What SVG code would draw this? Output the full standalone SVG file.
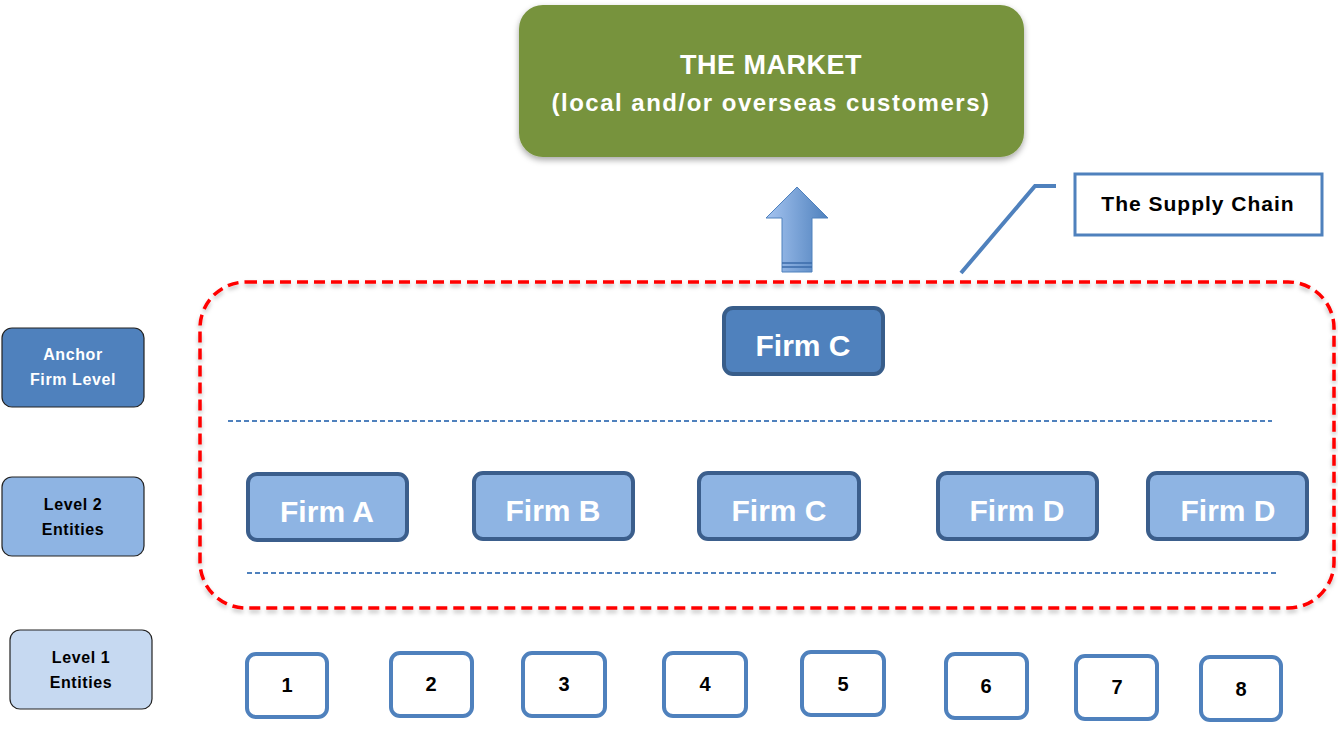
<svg xmlns="http://www.w3.org/2000/svg" width="1338" height="747" viewBox="0 0 1338 747">
<defs>
<filter id="sh" x="-10%" y="-10%" width="120%" height="130%">
<feDropShadow dx="0" dy="3" stdDeviation="3" flood-color="#000" flood-opacity="0.35"/>
</filter>
<filter id="sh2" x="-5%" y="-5%" width="110%" height="115%">
<feDropShadow dx="0" dy="3" stdDeviation="2" flood-color="#000" flood-opacity="0.25"/>
</filter>
<linearGradient id="arrowG" x1="0" y1="0" x2="1" y2="0">
<stop offset="0" stop-color="#A5C4F0"/>
<stop offset="1" stop-color="#4F81BD"/>
</linearGradient>
<linearGradient id="fadeG" x1="0" y1="0" x2="1" y2="0">
<stop offset="0" stop-color="#C6D9F1" stop-opacity="0.2"/>
<stop offset="1" stop-color="#8EB4E3"/>
</linearGradient>
</defs>
<style>
text{font-family:"Liberation Sans",Arial,sans-serif;font-weight:bold;text-anchor:middle}
.firm2{fill:#8EB4E3;stroke:#3B5E8C;stroke-width:4}
.firm1{fill:#4F81BD;stroke:#385D8A;stroke-width:4}
.ftxt{fill:#fff;font-size:30px}
.num{fill:#fff;stroke:#4F81BD;stroke-width:4}
.ntxt{fill:#000;font-size:20px}
.lbl{stroke:#222;stroke-width:1.2}
.ltxt{font-size:16px;letter-spacing:0.6px}
.sep{stroke:#4F81BD;stroke-width:1.8;stroke-dasharray:5 3;fill:none}
</style>
<rect width="1338" height="747" fill="#fff"/>

<g id="market">
<rect x="519" y="5" width="505" height="152" rx="24" fill="#77933C" filter="url(#sh)"/>
<text x="771" y="74" fill="#fff" font-size="27" letter-spacing="0.5">THE MARKET</text>
<text x="771" y="111" fill="#fff" font-size="24" letter-spacing="1.5">(local and/or overseas customers)</text>
</g>

<g id="supply-chain-boundary">
<rect x="200" y="282" width="1134" height="326" rx="46" fill="none" stroke="#FF0000" stroke-width="3.5" stroke-dasharray="11 6" filter="url(#sh2)"/>
</g>

<g id="supply-chain-label">
<rect x="1075" y="174" width="247" height="61" fill="#fff" stroke="#4F81BD" stroke-width="3"/>
<text x="1198" y="211" fill="#000" font-size="21" letter-spacing="1">The Supply Chain</text>
</g>

<g id="connectors">
<polyline points="961,273 1035,186 1056,186" fill="none" stroke="#4F81BD" stroke-width="4"/>
<path d="M797,187 L828,218 L812,218 L812,272 L782,272 L782,218 L766,218 Z" fill="url(#arrowG)" stroke="#4F81BD" stroke-width="1"/>
<line x1="782" y1="263" x2="812" y2="263" stroke="#3B6BAA" stroke-width="1.5"/>
<line x1="782" y1="267" x2="812" y2="267" stroke="#3B6BAA" stroke-width="1.5"/>
<line class="sep" x1="228" y1="421" x2="1272" y2="421"/>
<line class="sep" x1="247" y1="573" x2="1277" y2="573"/>
<line x1="555" y1="745" x2="1245" y2="745" stroke="url(#fadeG)" stroke-width="1.5" stroke-dasharray="5 3"/>
</g>

<g id="anchor-label">
<rect class="lbl" x="2" y="328" width="142" height="79" rx="10" fill="#4F81BD"/>
<text class="ltxt" x="73" y="360" fill="#fff">Anchor</text>
<text class="ltxt" x="73" y="385" fill="#fff">Firm Level</text>
</g>
<g id="level2-label">
<rect class="lbl" x="2" y="477" width="142" height="79" rx="10" fill="#8EB4E3"/>
<text class="ltxt" x="73" y="510" fill="#000">Level 2</text>
<text class="ltxt" x="73" y="535" fill="#000">Entities</text>
</g>
<g id="level1-label">
<rect class="lbl" x="10" y="630" width="142" height="79" rx="10" fill="#C6D9F1"/>
<text class="ltxt" x="81" y="663" fill="#000">Level 1</text>
<text class="ltxt" x="81" y="688" fill="#000">Entities</text>
</g>

<g id="firm-c-anchor">
<rect class="firm1" x="724" y="308" width="159" height="66" rx="9"/>
<text class="ftxt" x="803" y="356">Firm C</text>
</g>

<g id="firm-a">
<rect class="firm2" x="248" y="474" width="159" height="66" rx="9"/>
<text class="ftxt" x="327" y="522">Firm A</text>
</g>
<g id="firm-b">
<rect class="firm2" x="474" y="473" width="159" height="66" rx="9"/>
<text class="ftxt" x="553" y="521">Firm B</text>
</g>
<g id="firm-c">
<rect class="firm2" x="699" y="473" width="160" height="66" rx="9"/>
<text class="ftxt" x="779" y="521">Firm C</text>
</g>
<g id="firm-d1">
<rect class="firm2" x="938" y="473" width="159" height="66" rx="9"/>
<text class="ftxt" x="1017" y="521">Firm D</text>
</g>
<g id="firm-d2">
<rect class="firm2" x="1148" y="473" width="159" height="66" rx="9"/>
<text class="ftxt" x="1228" y="521">Firm D</text>
</g>

<g id="e1"><rect class="num" x="247" y="654" width="80" height="63" rx="9"/><text class="ntxt" x="287" y="692">1</text></g>
<g id="e2"><rect class="num" x="391" y="653" width="81" height="63" rx="9"/><text class="ntxt" x="431" y="691">2</text></g>
<g id="e3"><rect class="num" x="523" y="653" width="82" height="63" rx="9"/><text class="ntxt" x="564" y="691">3</text></g>
<g id="e4"><rect class="num" x="664" y="653" width="82" height="63" rx="9"/><text class="ntxt" x="705" y="691">4</text></g>
<g id="e5"><rect class="num" x="802" y="652" width="82" height="63" rx="9"/><text class="ntxt" x="843" y="691">5</text></g>
<g id="e6"><rect class="num" x="946" y="654" width="81" height="64" rx="9"/><text class="ntxt" x="986" y="693">6</text></g>
<g id="e7"><rect class="num" x="1076" y="656" width="81" height="63" rx="9"/><text class="ntxt" x="1117" y="694">7</text></g>
<g id="e8"><rect class="num" x="1201" y="657" width="80" height="63" rx="9"/><text class="ntxt" x="1241" y="696">8</text></g>
</svg>
